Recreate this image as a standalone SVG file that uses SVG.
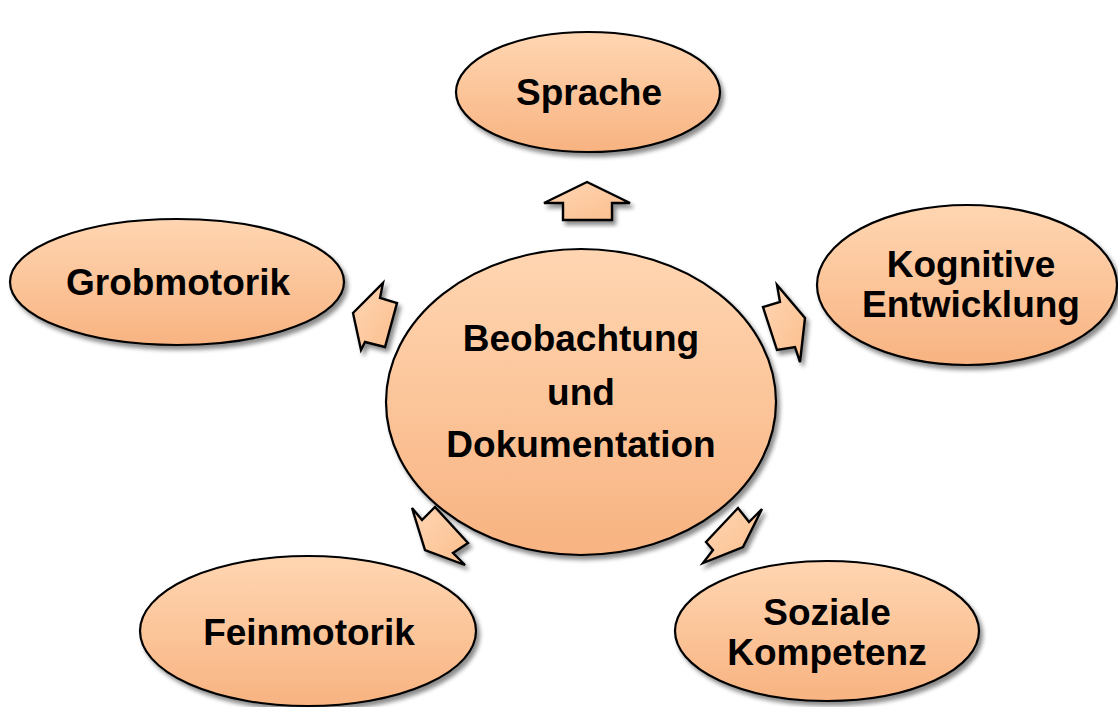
<svg xmlns="http://www.w3.org/2000/svg" width="1118" height="707" viewBox="0 0 1118 707">
<defs>
<linearGradient id="g" x1="0" y1="0" x2="0" y2="1">
<stop offset="0" stop-color="#FFD6B2"/>
<stop offset="1" stop-color="#F8B381"/>
</linearGradient>
<linearGradient id="ga" x1="0" y1="0" x2="1" y2="1">
<stop offset="0" stop-color="#FFD6B5"/>
<stop offset="1" stop-color="#FBBE8C"/>
</linearGradient>
<filter id="sh" x="-20%" y="-20%" width="140%" height="140%">
<feDropShadow dx="3" dy="4" stdDeviation="2" flood-color="#000" flood-opacity="0.45"/>
</filter>
</defs>
<style>
.n{fill:url(#g);stroke:#000;stroke-width:2.2;filter:url(#sh)}
.a{fill:url(#ga);stroke:#000;stroke-width:2.4;stroke-linejoin:miter;filter:url(#sh)}
text{font-family:"Liberation Sans",Arial,sans-serif;font-weight:bold;font-size:37px;fill:#000;text-anchor:middle}
</style>
<rect width="1118" height="707" fill="#fff"/>
<g id="connectors">
<polygon class="a" points="587,182 630,203 612,203 612,220 563,220 563,203 544,203"/>
<polygon class="a" points="353,313 383,283 380,298 397,303 385,347 365,342 361,350"/>
<polygon class="a" points="805,318 777,285 780,302 763,307 777,350 795,347 800,362"/>
<polygon class="a" points="412,508 422,520 435,507 468,543 453,553 465,565 425,550"/>
<polygon class="a" points="738,508 749,522 762,509 743,547 703,563 713,550 706,542"/>
</g>
<g id="sprache"><ellipse class="n" cx="588" cy="92" rx="132" ry="60"/><text x="589" y="105">Sprache</text></g>
<g id="grobmotorik"><ellipse class="n" cx="177" cy="282" rx="167" ry="63"/><text x="178" y="295">Grobmotorik</text></g>
<g id="kognitive"><ellipse class="n" cx="967" cy="285" rx="150" ry="80"/><text x="971" y="277">Kognitive</text><text x="971" y="317">Entwicklung</text></g>
<g id="center"><ellipse class="n" cx="581" cy="402" rx="195" ry="153"/><text x="581" y="351">Beobachtung</text><text x="581" y="405">und</text><text x="581" y="457">Dokumentation</text></g>
<g id="feinmotorik"><ellipse class="n" cx="308" cy="631" rx="168" ry="75"/><text x="309" y="645">Feinmotorik</text></g>
<g id="soziale"><ellipse class="n" cx="827" cy="631" rx="152" ry="70"/><text x="827" y="625">Soziale</text><text x="827" y="665">Kompetenz</text></g>
</svg>
